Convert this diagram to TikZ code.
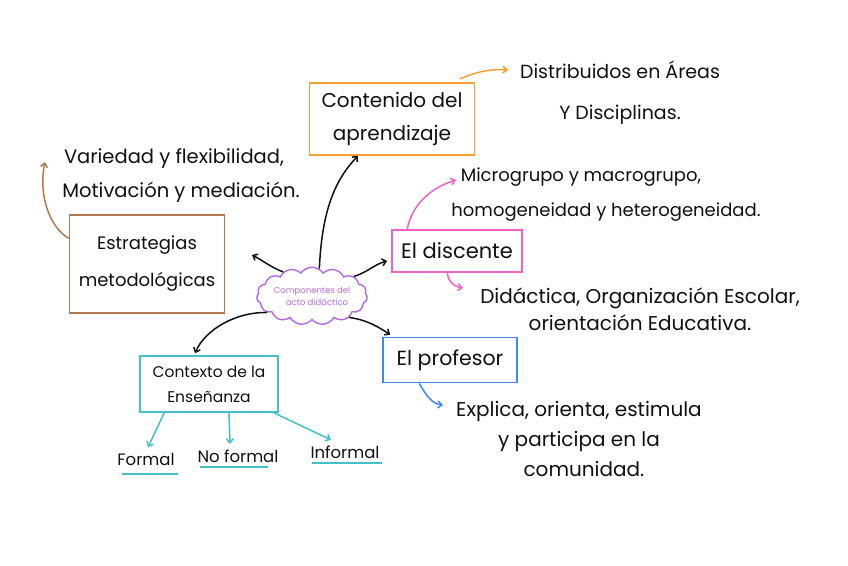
\documentclass[tikz,border=0pt]{standalone}
\usepackage{fontspec}
\setmainfont{Poppins}
\usetikzlibrary{shapes.symbols,arrows.meta,calc}
\definecolor{corange}{HTML}{F5A032}
\definecolor{cbrown}{HTML}{B07A52}
\definecolor{cpink}{HTML}{F062C8}
\definecolor{cblue}{HTML}{3B8BEF}
\definecolor{cteal}{HTML}{45C0C8}
\definecolor{cpurple}{HTML}{B46AE2}
\definecolor{ink}{HTML}{111111}
\begin{document}
\begin{tikzpicture}[x=1pt,y=-1pt,
  box/.style={draw, line width=1.6pt, align=center, inner sep=0pt, text=ink},
  note/.style={align=center, text=ink},
  arr/.style={line width=1.5pt, -{Straight Barb[length=4pt,width=7pt]}},
  lbl/.style={text=ink, font=\fontsize{16.5}{18}\selectfont, anchor=base}]
\useasboundingbox (0,0) rectangle (848,565);
\fill[white] (0,0) rectangle (848,565);

% centre cloud
\node[cloud, cloud puffs=15, cloud puff arc=110, aspect=2.3, draw=cpurple, line width=1.4pt,
      minimum width=102pt, minimum height=48pt, inner sep=0pt, align=center, text=cpurple,
      font=\fontsize{8.5}{12}\selectfont] (c) at (312,296) {Componentes del\\ \hspace*{10pt}acto didáctico};

% boxes
\node[box, draw=corange, minimum width=165pt, minimum height=72pt, font=\fontsize{20}{33}\selectfont] (ob) at (392,119) {Contenido del\\aprendizaje};
\node[box, draw=cbrown, minimum width=155pt, minimum height=98pt, font=\fontsize{18}{37}\selectfont] (bb) at (147,264) {Estrategias\\metodológicas};
\node[box, draw=cpink, minimum width=130pt, minimum height=42pt, font=\fontsize{21}{24}\selectfont] (pb) at (457,251) {El discente};
\node[box, draw=cblue, minimum width=134pt, minimum height=45pt, font=\fontsize{20.5}{24}\selectfont] (lb) at (450,360) {El profesor};
\node[box, draw=cteal, minimum width=138pt, minimum height=56pt, font=\fontsize{15.5}{25}\selectfont] (tb) at (209,384) {Contexto de la\\Enseñanza};

% notes
\node[note, font=\fontsize{19}{41}\selectfont] (on) at (620,93) {Distribuidos en Áreas\\Y Disciplinas.};
\node[note, font=\fontsize{19.5}{34}\selectfont] (bn) at (174,176) {Variedad y flexibilidad,\\\hspace*{14pt}Motivación y mediación.};
\node[note, font=\fontsize{18}{35}\selectfont] (pn) at (606,195) {\hspace*{-50pt}Microgrupo y macrogrupo,\\homogeneidad y heterogeneidad.};
\node[note, font=\fontsize{20}{27}\selectfont] (pn2) at (640,309) {Didáctica, Organización Escolar,\\orientación Educativa.};
\node[note, font=\fontsize{20}{30}\selectfont] (ln) at (579,439) {Explica, orienta, estimula\\y participa en la\\\hspace*{10pt}comunidad.};

% leaf labels
\node[lbl] (f1) at (146,465) {Formal};
\node[lbl] (f2) at (238,462) {No formal};
\node[lbl] (f3) at (345,458) {Informal};
\draw[cteal, line width=1.5pt] (122,474) -- (178,474);
\draw[cteal, line width=1.5pt] (200,467) -- (268,467);
\draw[cteal, line width=1.5pt] (312,463) -- (382,463);

% free ends of the coloured arrows
\coordinate (oe) at (508,70);
\coordinate (be) at (45,162);
\coordinate (pe) at (456,180);
\coordinate (pe2) at (463,288);
\coordinate (le) at (443,405);

% black connectors from the cloud
\draw[arr, ink] (c.75) .. controls (322,210) and (335,180) .. ($(ob.south)+(-34,0)$);
\draw[arr, ink] (c.140) .. controls (272,268) and (262,260) .. (252,255);
\draw[arr, ink] (c.25) .. controls (368,272) and (375,264) .. ($(pb.west)+(-4,10)$);
\draw[arr, ink] (c.-30) .. controls (368,320) and (380,328) .. ($(lb.north west)+(8,-2)$);
\draw[arr, ink] (c.200) .. controls (235,312) and (205,330) .. ($(tb.north)+(-14,-2)$);

% coloured connectors
\draw[arr, corange] (460,79) .. controls (480,70) and (495,69) .. (oe);
\draw[arr, cbrown] ($(bb.north west)+(0,24)$) .. controls (50,228) and (38,195) .. (be);
\draw[arr, cpink] ($(pb.north west)+(16,0)$) .. controls (412,205) and (430,188) .. (pe);
\draw[arr, cpink] ($(pb.south west)+(56,0)$) .. controls (448,280) and (452,286) .. (pe2);
\draw[arr, cblue] ($(lb.south west)+(37,0)$) .. controls (426,395) and (432,404) .. (le);
\draw[arr, cteal] ($(tb.south west)+(25,0)$) -- ($(f1.north)+(2,-2)$);
\draw[arr, cteal] ($(tb.south)+(20,0)$) -- ($(f2.north)+(-8,-2)$);
\draw[arr, cteal] ($(tb.south east)+(-5,0)$) -- ($(f3.north)+(-14,-2)$);
\end{tikzpicture}
\end{document}
